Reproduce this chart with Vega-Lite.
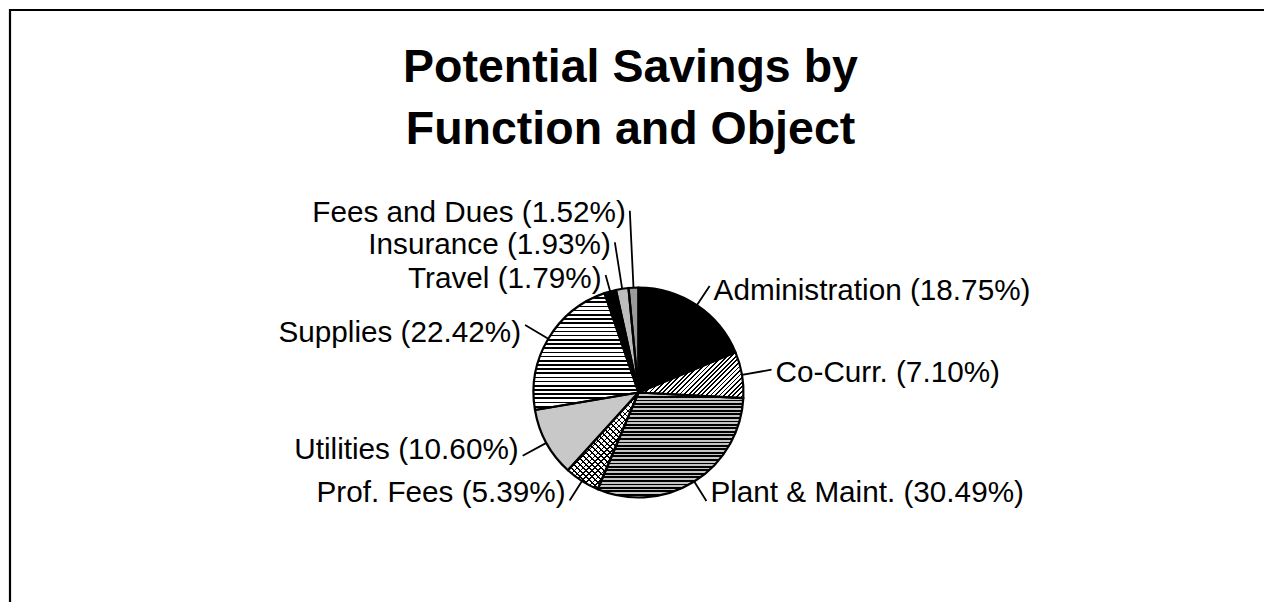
{
"$schema": "https://vega.github.io/schema/vega-lite/v6.json",
"width": 1257,
"height": 765,
"autosize": "none",
"padding": {"left": 10, "top": 10, "right": -3, "bottom": -173},
"background": "#ffffff",
"title": {"text": ["Potential Savings by", "Function and Object"], "font": "Liberation Sans", "fontSize": 46.5, "fontWeight": "bold", "lineHeight": 62, "offset": -145, "dx": -8, "color": "#000000", "anchor": "middle"},
"layer": [
{"data": {"values": [{"frame": "border"}]},
"mark": {"type": "rect", "filled": false, "stroke": "#000000", "strokeWidth": 2.2}},
{"data": {"values": [
{"rank": 1, "category": "Administration", "pct": 18.75, "label": "Administration (18.75%)"},
{"rank": 2, "category": "Co-Curr.", "pct": 7.10, "label": "Co-Curr. (7.10%)"},
{"rank": 3, "category": "Plant & Maint.", "pct": 30.49, "label": "Plant & Maint. (30.49%)"},
{"rank": 4, "category": "Prof. Fees", "pct": 5.39, "label": "Prof. Fees (5.39%)"},
{"rank": 5, "category": "Utilities", "pct": 10.60, "label": "Utilities (10.60%)"},
{"rank": 6, "category": "Supplies", "pct": 22.42, "label": "Supplies (22.42%)"},
{"rank": 7, "category": "Travel", "pct": 1.79, "label": "Travel (1.79%)"},
{"rank": 8, "category": "Insurance", "pct": 1.93, "label": "Insurance (1.93%)"},
{"rank": 9, "category": "Fees and Dues", "pct": 1.52, "label": "Fees and Dues (1.52%)"}
]},
"encoding": {
"theta": {"field": "pct", "type": "quantitative", "stack": true},
"order": {"field": "rank", "type": "quantitative"}
},
"layer": [
{"mark": {"type": "arc", "outerRadius": 105},
"encoding": {"fill": {"condition": [
{"test": "datum.category === 'Co-Curr.'", "value": {"gradient": "linear", "x1": 0, "y1": 0, "x2": 1.2066, "y2": 0.5263, "stops": [
{"offset":0,"color":"#000"},{"offset":0.012,"color":"#000"},{"offset":0.012,"color":"#fff"},{"offset":0.03,"color":"#fff"},
{"offset":0.03,"color":"#000"},{"offset":0.042,"color":"#000"},{"offset":0.042,"color":"#fff"},{"offset":0.061,"color":"#fff"},
{"offset":0.061,"color":"#000"},{"offset":0.073,"color":"#000"},{"offset":0.073,"color":"#fff"},{"offset":0.091,"color":"#fff"},
{"offset":0.091,"color":"#000"},{"offset":0.103,"color":"#000"},{"offset":0.103,"color":"#fff"},{"offset":0.121,"color":"#fff"},
{"offset":0.121,"color":"#000"},{"offset":0.133,"color":"#000"},{"offset":0.133,"color":"#fff"},{"offset":0.152,"color":"#fff"},
{"offset":0.152,"color":"#000"},{"offset":0.164,"color":"#000"},{"offset":0.164,"color":"#fff"},{"offset":0.182,"color":"#fff"},
{"offset":0.182,"color":"#000"},{"offset":0.194,"color":"#000"},{"offset":0.194,"color":"#fff"},{"offset":0.212,"color":"#fff"},
{"offset":0.212,"color":"#000"},{"offset":0.224,"color":"#000"},{"offset":0.224,"color":"#fff"},{"offset":0.242,"color":"#fff"},
{"offset":0.242,"color":"#000"},{"offset":0.255,"color":"#000"},{"offset":0.255,"color":"#fff"},{"offset":0.273,"color":"#fff"},
{"offset":0.273,"color":"#000"},{"offset":0.285,"color":"#000"},{"offset":0.285,"color":"#fff"},{"offset":0.303,"color":"#fff"},
{"offset":0.303,"color":"#000"},{"offset":0.315,"color":"#000"},{"offset":0.315,"color":"#fff"},{"offset":0.333,"color":"#fff"},
{"offset":0.333,"color":"#000"},{"offset":0.345,"color":"#000"},{"offset":0.345,"color":"#fff"},{"offset":0.364,"color":"#fff"},
{"offset":0.364,"color":"#000"},{"offset":0.376,"color":"#000"},{"offset":0.376,"color":"#fff"},{"offset":0.394,"color":"#fff"},
{"offset":0.394,"color":"#000"},{"offset":0.406,"color":"#000"},{"offset":0.406,"color":"#fff"},{"offset":0.424,"color":"#fff"},
{"offset":0.424,"color":"#000"},{"offset":0.436,"color":"#000"},{"offset":0.436,"color":"#fff"},{"offset":0.455,"color":"#fff"},
{"offset":0.455,"color":"#000"},{"offset":0.467,"color":"#000"},{"offset":0.467,"color":"#fff"},{"offset":0.485,"color":"#fff"},
{"offset":0.485,"color":"#000"},{"offset":0.497,"color":"#000"},{"offset":0.497,"color":"#fff"},{"offset":0.515,"color":"#fff"},
{"offset":0.515,"color":"#000"},{"offset":0.527,"color":"#000"},{"offset":0.527,"color":"#fff"},{"offset":0.545,"color":"#fff"},
{"offset":0.545,"color":"#000"},{"offset":0.558,"color":"#000"},{"offset":0.558,"color":"#fff"},{"offset":0.576,"color":"#fff"},
{"offset":0.576,"color":"#000"},{"offset":0.588,"color":"#000"},{"offset":0.588,"color":"#fff"},{"offset":0.606,"color":"#fff"},
{"offset":0.606,"color":"#000"},{"offset":0.618,"color":"#000"},{"offset":0.618,"color":"#fff"},{"offset":0.636,"color":"#fff"},
{"offset":0.636,"color":"#000"},{"offset":0.648,"color":"#000"},{"offset":0.648,"color":"#fff"},{"offset":0.667,"color":"#fff"},
{"offset":0.667,"color":"#000"},{"offset":0.679,"color":"#000"},{"offset":0.679,"color":"#fff"},{"offset":0.697,"color":"#fff"},
{"offset":0.697,"color":"#000"},{"offset":0.709,"color":"#000"},{"offset":0.709,"color":"#fff"},{"offset":0.727,"color":"#fff"},
{"offset":0.727,"color":"#000"},{"offset":0.739,"color":"#000"},{"offset":0.739,"color":"#fff"},{"offset":0.758,"color":"#fff"},
{"offset":0.758,"color":"#000"},{"offset":0.77,"color":"#000"},{"offset":0.77,"color":"#fff"},{"offset":0.788,"color":"#fff"},
{"offset":0.788,"color":"#000"},{"offset":0.8,"color":"#000"},{"offset":0.8,"color":"#fff"},{"offset":0.818,"color":"#fff"},
{"offset":0.818,"color":"#000"},{"offset":0.83,"color":"#000"},{"offset":0.83,"color":"#fff"},{"offset":0.848,"color":"#fff"},
{"offset":0.848,"color":"#000"},{"offset":0.861,"color":"#000"},{"offset":0.861,"color":"#fff"},{"offset":0.879,"color":"#fff"},
{"offset":0.879,"color":"#000"},{"offset":0.891,"color":"#000"},{"offset":0.891,"color":"#fff"},{"offset":0.909,"color":"#fff"},
{"offset":0.909,"color":"#000"},{"offset":0.921,"color":"#000"},{"offset":0.921,"color":"#fff"},{"offset":0.939,"color":"#fff"},
{"offset":0.939,"color":"#000"},{"offset":0.952,"color":"#000"},{"offset":0.952,"color":"#fff"},{"offset":0.97,"color":"#fff"},
{"offset":0.97,"color":"#000"},{"offset":0.982,"color":"#000"},{"offset":0.982,"color":"#fff"},{"offset":1,"color":"#fff"}
]}},
{"test": "datum.category === 'Plant & Maint.'", "value": {"gradient": "linear", "x1": 0, "y1": 0, "x2": 0, "y2": 1, "stops": [
{"offset":0,"color":"#000"},{"offset":0.017,"color":"#000"},{"offset":0.017,"color":"#c4c4c4"},{"offset":0.033,"color":"#c4c4c4"},
{"offset":0.033,"color":"#000"},{"offset":0.05,"color":"#000"},{"offset":0.05,"color":"#c4c4c4"},{"offset":0.067,"color":"#c4c4c4"},
{"offset":0.067,"color":"#000"},{"offset":0.083,"color":"#000"},{"offset":0.083,"color":"#c4c4c4"},{"offset":0.1,"color":"#c4c4c4"},
{"offset":0.1,"color":"#000"},{"offset":0.117,"color":"#000"},{"offset":0.117,"color":"#c4c4c4"},{"offset":0.133,"color":"#c4c4c4"},
{"offset":0.133,"color":"#000"},{"offset":0.15,"color":"#000"},{"offset":0.15,"color":"#c4c4c4"},{"offset":0.167,"color":"#c4c4c4"},
{"offset":0.167,"color":"#000"},{"offset":0.183,"color":"#000"},{"offset":0.183,"color":"#c4c4c4"},{"offset":0.2,"color":"#c4c4c4"},
{"offset":0.2,"color":"#000"},{"offset":0.217,"color":"#000"},{"offset":0.217,"color":"#c4c4c4"},{"offset":0.233,"color":"#c4c4c4"},
{"offset":0.233,"color":"#000"},{"offset":0.25,"color":"#000"},{"offset":0.25,"color":"#c4c4c4"},{"offset":0.267,"color":"#c4c4c4"},
{"offset":0.267,"color":"#000"},{"offset":0.283,"color":"#000"},{"offset":0.283,"color":"#c4c4c4"},{"offset":0.3,"color":"#c4c4c4"},
{"offset":0.3,"color":"#000"},{"offset":0.317,"color":"#000"},{"offset":0.317,"color":"#c4c4c4"},{"offset":0.333,"color":"#c4c4c4"},
{"offset":0.333,"color":"#000"},{"offset":0.35,"color":"#000"},{"offset":0.35,"color":"#c4c4c4"},{"offset":0.367,"color":"#c4c4c4"},
{"offset":0.367,"color":"#000"},{"offset":0.383,"color":"#000"},{"offset":0.383,"color":"#c4c4c4"},{"offset":0.4,"color":"#c4c4c4"},
{"offset":0.4,"color":"#000"},{"offset":0.417,"color":"#000"},{"offset":0.417,"color":"#c4c4c4"},{"offset":0.433,"color":"#c4c4c4"},
{"offset":0.433,"color":"#000"},{"offset":0.45,"color":"#000"},{"offset":0.45,"color":"#c4c4c4"},{"offset":0.467,"color":"#c4c4c4"},
{"offset":0.467,"color":"#000"},{"offset":0.483,"color":"#000"},{"offset":0.483,"color":"#c4c4c4"},{"offset":0.5,"color":"#c4c4c4"},
{"offset":0.5,"color":"#000"},{"offset":0.517,"color":"#000"},{"offset":0.517,"color":"#c4c4c4"},{"offset":0.533,"color":"#c4c4c4"},
{"offset":0.533,"color":"#000"},{"offset":0.55,"color":"#000"},{"offset":0.55,"color":"#c4c4c4"},{"offset":0.567,"color":"#c4c4c4"},
{"offset":0.567,"color":"#000"},{"offset":0.583,"color":"#000"},{"offset":0.583,"color":"#c4c4c4"},{"offset":0.6,"color":"#c4c4c4"},
{"offset":0.6,"color":"#000"},{"offset":0.617,"color":"#000"},{"offset":0.617,"color":"#c4c4c4"},{"offset":0.633,"color":"#c4c4c4"},
{"offset":0.633,"color":"#000"},{"offset":0.65,"color":"#000"},{"offset":0.65,"color":"#c4c4c4"},{"offset":0.667,"color":"#c4c4c4"},
{"offset":0.667,"color":"#000"},{"offset":0.683,"color":"#000"},{"offset":0.683,"color":"#c4c4c4"},{"offset":0.7,"color":"#c4c4c4"},
{"offset":0.7,"color":"#000"},{"offset":0.717,"color":"#000"},{"offset":0.717,"color":"#c4c4c4"},{"offset":0.733,"color":"#c4c4c4"},
{"offset":0.733,"color":"#000"},{"offset":0.75,"color":"#000"},{"offset":0.75,"color":"#c4c4c4"},{"offset":0.767,"color":"#c4c4c4"},
{"offset":0.767,"color":"#000"},{"offset":0.783,"color":"#000"},{"offset":0.783,"color":"#c4c4c4"},{"offset":0.8,"color":"#c4c4c4"},
{"offset":0.8,"color":"#000"},{"offset":0.817,"color":"#000"},{"offset":0.817,"color":"#c4c4c4"},{"offset":0.833,"color":"#c4c4c4"},
{"offset":0.833,"color":"#000"},{"offset":0.85,"color":"#000"},{"offset":0.85,"color":"#c4c4c4"},{"offset":0.867,"color":"#c4c4c4"},
{"offset":0.867,"color":"#000"},{"offset":0.883,"color":"#000"},{"offset":0.883,"color":"#c4c4c4"},{"offset":0.9,"color":"#c4c4c4"},
{"offset":0.9,"color":"#000"},{"offset":0.917,"color":"#000"},{"offset":0.917,"color":"#c4c4c4"},{"offset":0.933,"color":"#c4c4c4"},
{"offset":0.933,"color":"#000"},{"offset":0.95,"color":"#000"},{"offset":0.95,"color":"#c4c4c4"},{"offset":0.967,"color":"#c4c4c4"},
{"offset":0.967,"color":"#000"},{"offset":0.983,"color":"#000"},{"offset":0.983,"color":"#c4c4c4"},{"offset":1,"color":"#c4c4c4"}
]}},
{"test": "datum.category === 'Prof. Fees'", "value": {"gradient": "linear", "x1": 0, "y1": 0, "x2": 0.8225, "y2": 1.1294, "stops": [
{"offset":0,"color":"#000"},{"offset":0.011,"color":"#000"},{"offset":0.011,"color":"#fff"},{"offset":0.036,"color":"#fff"},
{"offset":0.036,"color":"#000"},{"offset":0.046,"color":"#000"},{"offset":0.046,"color":"#fff"},{"offset":0.071,"color":"#fff"},
{"offset":0.071,"color":"#000"},{"offset":0.082,"color":"#000"},{"offset":0.082,"color":"#fff"},{"offset":0.107,"color":"#fff"},
{"offset":0.107,"color":"#000"},{"offset":0.118,"color":"#000"},{"offset":0.118,"color":"#fff"},{"offset":0.143,"color":"#fff"},
{"offset":0.143,"color":"#000"},{"offset":0.154,"color":"#000"},{"offset":0.154,"color":"#fff"},{"offset":0.179,"color":"#fff"},
{"offset":0.179,"color":"#000"},{"offset":0.189,"color":"#000"},{"offset":0.189,"color":"#fff"},{"offset":0.214,"color":"#fff"},
{"offset":0.214,"color":"#000"},{"offset":0.225,"color":"#000"},{"offset":0.225,"color":"#fff"},{"offset":0.25,"color":"#fff"},
{"offset":0.25,"color":"#000"},{"offset":0.261,"color":"#000"},{"offset":0.261,"color":"#fff"},{"offset":0.286,"color":"#fff"},
{"offset":0.286,"color":"#000"},{"offset":0.296,"color":"#000"},{"offset":0.296,"color":"#fff"},{"offset":0.321,"color":"#fff"},
{"offset":0.321,"color":"#000"},{"offset":0.332,"color":"#000"},{"offset":0.332,"color":"#fff"},{"offset":0.357,"color":"#fff"},
{"offset":0.357,"color":"#000"},{"offset":0.368,"color":"#000"},{"offset":0.368,"color":"#fff"},{"offset":0.393,"color":"#fff"},
{"offset":0.393,"color":"#000"},{"offset":0.404,"color":"#000"},{"offset":0.404,"color":"#fff"},{"offset":0.429,"color":"#fff"},
{"offset":0.429,"color":"#000"},{"offset":0.439,"color":"#000"},{"offset":0.439,"color":"#fff"},{"offset":0.464,"color":"#fff"},
{"offset":0.464,"color":"#000"},{"offset":0.475,"color":"#000"},{"offset":0.475,"color":"#fff"},{"offset":0.5,"color":"#fff"},
{"offset":0.5,"color":"#000"},{"offset":0.511,"color":"#000"},{"offset":0.511,"color":"#fff"},{"offset":0.536,"color":"#fff"},
{"offset":0.536,"color":"#000"},{"offset":0.546,"color":"#000"},{"offset":0.546,"color":"#fff"},{"offset":0.571,"color":"#fff"},
{"offset":0.571,"color":"#000"},{"offset":0.582,"color":"#000"},{"offset":0.582,"color":"#fff"},{"offset":0.607,"color":"#fff"},
{"offset":0.607,"color":"#000"},{"offset":0.618,"color":"#000"},{"offset":0.618,"color":"#fff"},{"offset":0.643,"color":"#fff"},
{"offset":0.643,"color":"#000"},{"offset":0.654,"color":"#000"},{"offset":0.654,"color":"#fff"},{"offset":0.679,"color":"#fff"},
{"offset":0.679,"color":"#000"},{"offset":0.689,"color":"#000"},{"offset":0.689,"color":"#fff"},{"offset":0.714,"color":"#fff"},
{"offset":0.714,"color":"#000"},{"offset":0.725,"color":"#000"},{"offset":0.725,"color":"#fff"},{"offset":0.75,"color":"#fff"},
{"offset":0.75,"color":"#000"},{"offset":0.761,"color":"#000"},{"offset":0.761,"color":"#fff"},{"offset":0.786,"color":"#fff"},
{"offset":0.786,"color":"#000"},{"offset":0.796,"color":"#000"},{"offset":0.796,"color":"#fff"},{"offset":0.821,"color":"#fff"},
{"offset":0.821,"color":"#000"},{"offset":0.832,"color":"#000"},{"offset":0.832,"color":"#fff"},{"offset":0.857,"color":"#fff"},
{"offset":0.857,"color":"#000"},{"offset":0.868,"color":"#000"},{"offset":0.868,"color":"#fff"},{"offset":0.893,"color":"#fff"},
{"offset":0.893,"color":"#000"},{"offset":0.904,"color":"#000"},{"offset":0.904,"color":"#fff"},{"offset":0.929,"color":"#fff"},
{"offset":0.929,"color":"#000"},{"offset":0.939,"color":"#000"},{"offset":0.939,"color":"#fff"},{"offset":0.964,"color":"#fff"},
{"offset":0.964,"color":"#000"},{"offset":0.975,"color":"#000"},{"offset":0.975,"color":"#fff"},{"offset":1,"color":"#fff"}
]}},
{"test": "datum.category === 'Utilities'", "value": "#c8c8c8"},
{"test": "datum.category === 'Supplies'", "value": {"gradient": "linear", "x1": 0, "y1": 0, "x2": 0, "y2": 1, "stops": [
{"offset":0,"color":"#000"},{"offset":0.014,"color":"#000"},{"offset":0.014,"color":"#fff"},{"offset":0.036,"color":"#fff"},
{"offset":0.036,"color":"#000"},{"offset":0.05,"color":"#000"},{"offset":0.05,"color":"#fff"},{"offset":0.071,"color":"#fff"},
{"offset":0.071,"color":"#000"},{"offset":0.086,"color":"#000"},{"offset":0.086,"color":"#fff"},{"offset":0.107,"color":"#fff"},
{"offset":0.107,"color":"#000"},{"offset":0.121,"color":"#000"},{"offset":0.121,"color":"#fff"},{"offset":0.143,"color":"#fff"},
{"offset":0.143,"color":"#000"},{"offset":0.157,"color":"#000"},{"offset":0.157,"color":"#fff"},{"offset":0.179,"color":"#fff"},
{"offset":0.179,"color":"#000"},{"offset":0.193,"color":"#000"},{"offset":0.193,"color":"#fff"},{"offset":0.214,"color":"#fff"},
{"offset":0.214,"color":"#000"},{"offset":0.229,"color":"#000"},{"offset":0.229,"color":"#fff"},{"offset":0.25,"color":"#fff"},
{"offset":0.25,"color":"#000"},{"offset":0.264,"color":"#000"},{"offset":0.264,"color":"#fff"},{"offset":0.286,"color":"#fff"},
{"offset":0.286,"color":"#000"},{"offset":0.3,"color":"#000"},{"offset":0.3,"color":"#fff"},{"offset":0.321,"color":"#fff"},
{"offset":0.321,"color":"#000"},{"offset":0.336,"color":"#000"},{"offset":0.336,"color":"#fff"},{"offset":0.357,"color":"#fff"},
{"offset":0.357,"color":"#000"},{"offset":0.371,"color":"#000"},{"offset":0.371,"color":"#fff"},{"offset":0.393,"color":"#fff"},
{"offset":0.393,"color":"#000"},{"offset":0.407,"color":"#000"},{"offset":0.407,"color":"#fff"},{"offset":0.429,"color":"#fff"},
{"offset":0.429,"color":"#000"},{"offset":0.443,"color":"#000"},{"offset":0.443,"color":"#fff"},{"offset":0.464,"color":"#fff"},
{"offset":0.464,"color":"#000"},{"offset":0.479,"color":"#000"},{"offset":0.479,"color":"#fff"},{"offset":0.5,"color":"#fff"},
{"offset":0.5,"color":"#000"},{"offset":0.514,"color":"#000"},{"offset":0.514,"color":"#fff"},{"offset":0.536,"color":"#fff"},
{"offset":0.536,"color":"#000"},{"offset":0.55,"color":"#000"},{"offset":0.55,"color":"#fff"},{"offset":0.571,"color":"#fff"},
{"offset":0.571,"color":"#000"},{"offset":0.586,"color":"#000"},{"offset":0.586,"color":"#fff"},{"offset":0.607,"color":"#fff"},
{"offset":0.607,"color":"#000"},{"offset":0.621,"color":"#000"},{"offset":0.621,"color":"#fff"},{"offset":0.643,"color":"#fff"},
{"offset":0.643,"color":"#000"},{"offset":0.657,"color":"#000"},{"offset":0.657,"color":"#fff"},{"offset":0.679,"color":"#fff"},
{"offset":0.679,"color":"#000"},{"offset":0.693,"color":"#000"},{"offset":0.693,"color":"#fff"},{"offset":0.714,"color":"#fff"},
{"offset":0.714,"color":"#000"},{"offset":0.729,"color":"#000"},{"offset":0.729,"color":"#fff"},{"offset":0.75,"color":"#fff"},
{"offset":0.75,"color":"#000"},{"offset":0.764,"color":"#000"},{"offset":0.764,"color":"#fff"},{"offset":0.786,"color":"#fff"},
{"offset":0.786,"color":"#000"},{"offset":0.8,"color":"#000"},{"offset":0.8,"color":"#fff"},{"offset":0.821,"color":"#fff"},
{"offset":0.821,"color":"#000"},{"offset":0.836,"color":"#000"},{"offset":0.836,"color":"#fff"},{"offset":0.857,"color":"#fff"},
{"offset":0.857,"color":"#000"},{"offset":0.871,"color":"#000"},{"offset":0.871,"color":"#fff"},{"offset":0.893,"color":"#fff"},
{"offset":0.893,"color":"#000"},{"offset":0.907,"color":"#000"},{"offset":0.907,"color":"#fff"},{"offset":0.929,"color":"#fff"},
{"offset":0.929,"color":"#000"},{"offset":0.943,"color":"#000"},{"offset":0.943,"color":"#fff"},{"offset":0.964,"color":"#fff"},
{"offset":0.964,"color":"#000"},{"offset":0.979,"color":"#000"},{"offset":0.979,"color":"#fff"},{"offset":1,"color":"#fff"}
]}},
{"test": "datum.category === 'Insurance'", "value": "#bdbdbd"},
{"test": "datum.category === 'Fees and Dues'", "value": "#9a9a9a"}
], "value": "#000000"}}},
{"mark": {"type": "arc", "outerRadius": 105},
"encoding": {"fill": {"condition": {"test": "datum.category === 'Prof. Fees'", "value": {"gradient": "linear", "x1": 0, "y1": 1, "x2": 0.8225, "y2": -0.1294, "stops": [
{"offset":0,"color":"#000"},{"offset":0.011,"color":"#000"},{"offset":0.011,"color":"rgba(0,0,0,0)"},{"offset":0.036,"color":"rgba(0,0,0,0)"},
{"offset":0.036,"color":"#000"},{"offset":0.046,"color":"#000"},{"offset":0.046,"color":"rgba(0,0,0,0)"},{"offset":0.071,"color":"rgba(0,0,0,0)"},
{"offset":0.071,"color":"#000"},{"offset":0.082,"color":"#000"},{"offset":0.082,"color":"rgba(0,0,0,0)"},{"offset":0.107,"color":"rgba(0,0,0,0)"},
{"offset":0.107,"color":"#000"},{"offset":0.118,"color":"#000"},{"offset":0.118,"color":"rgba(0,0,0,0)"},{"offset":0.143,"color":"rgba(0,0,0,0)"},
{"offset":0.143,"color":"#000"},{"offset":0.154,"color":"#000"},{"offset":0.154,"color":"rgba(0,0,0,0)"},{"offset":0.179,"color":"rgba(0,0,0,0)"},
{"offset":0.179,"color":"#000"},{"offset":0.189,"color":"#000"},{"offset":0.189,"color":"rgba(0,0,0,0)"},{"offset":0.214,"color":"rgba(0,0,0,0)"},
{"offset":0.214,"color":"#000"},{"offset":0.225,"color":"#000"},{"offset":0.225,"color":"rgba(0,0,0,0)"},{"offset":0.25,"color":"rgba(0,0,0,0)"},
{"offset":0.25,"color":"#000"},{"offset":0.261,"color":"#000"},{"offset":0.261,"color":"rgba(0,0,0,0)"},{"offset":0.286,"color":"rgba(0,0,0,0)"},
{"offset":0.286,"color":"#000"},{"offset":0.296,"color":"#000"},{"offset":0.296,"color":"rgba(0,0,0,0)"},{"offset":0.321,"color":"rgba(0,0,0,0)"},
{"offset":0.321,"color":"#000"},{"offset":0.332,"color":"#000"},{"offset":0.332,"color":"rgba(0,0,0,0)"},{"offset":0.357,"color":"rgba(0,0,0,0)"},
{"offset":0.357,"color":"#000"},{"offset":0.368,"color":"#000"},{"offset":0.368,"color":"rgba(0,0,0,0)"},{"offset":0.393,"color":"rgba(0,0,0,0)"},
{"offset":0.393,"color":"#000"},{"offset":0.404,"color":"#000"},{"offset":0.404,"color":"rgba(0,0,0,0)"},{"offset":0.429,"color":"rgba(0,0,0,0)"},
{"offset":0.429,"color":"#000"},{"offset":0.439,"color":"#000"},{"offset":0.439,"color":"rgba(0,0,0,0)"},{"offset":0.464,"color":"rgba(0,0,0,0)"},
{"offset":0.464,"color":"#000"},{"offset":0.475,"color":"#000"},{"offset":0.475,"color":"rgba(0,0,0,0)"},{"offset":0.5,"color":"rgba(0,0,0,0)"},
{"offset":0.5,"color":"#000"},{"offset":0.511,"color":"#000"},{"offset":0.511,"color":"rgba(0,0,0,0)"},{"offset":0.536,"color":"rgba(0,0,0,0)"},
{"offset":0.536,"color":"#000"},{"offset":0.546,"color":"#000"},{"offset":0.546,"color":"rgba(0,0,0,0)"},{"offset":0.571,"color":"rgba(0,0,0,0)"},
{"offset":0.571,"color":"#000"},{"offset":0.582,"color":"#000"},{"offset":0.582,"color":"rgba(0,0,0,0)"},{"offset":0.607,"color":"rgba(0,0,0,0)"},
{"offset":0.607,"color":"#000"},{"offset":0.618,"color":"#000"},{"offset":0.618,"color":"rgba(0,0,0,0)"},{"offset":0.643,"color":"rgba(0,0,0,0)"},
{"offset":0.643,"color":"#000"},{"offset":0.654,"color":"#000"},{"offset":0.654,"color":"rgba(0,0,0,0)"},{"offset":0.679,"color":"rgba(0,0,0,0)"},
{"offset":0.679,"color":"#000"},{"offset":0.689,"color":"#000"},{"offset":0.689,"color":"rgba(0,0,0,0)"},{"offset":0.714,"color":"rgba(0,0,0,0)"},
{"offset":0.714,"color":"#000"},{"offset":0.725,"color":"#000"},{"offset":0.725,"color":"rgba(0,0,0,0)"},{"offset":0.75,"color":"rgba(0,0,0,0)"},
{"offset":0.75,"color":"#000"},{"offset":0.761,"color":"#000"},{"offset":0.761,"color":"rgba(0,0,0,0)"},{"offset":0.786,"color":"rgba(0,0,0,0)"},
{"offset":0.786,"color":"#000"},{"offset":0.796,"color":"#000"},{"offset":0.796,"color":"rgba(0,0,0,0)"},{"offset":0.821,"color":"rgba(0,0,0,0)"},
{"offset":0.821,"color":"#000"},{"offset":0.832,"color":"#000"},{"offset":0.832,"color":"rgba(0,0,0,0)"},{"offset":0.857,"color":"rgba(0,0,0,0)"},
{"offset":0.857,"color":"#000"},{"offset":0.868,"color":"#000"},{"offset":0.868,"color":"rgba(0,0,0,0)"},{"offset":0.893,"color":"rgba(0,0,0,0)"},
{"offset":0.893,"color":"#000"},{"offset":0.904,"color":"#000"},{"offset":0.904,"color":"rgba(0,0,0,0)"},{"offset":0.929,"color":"rgba(0,0,0,0)"},
{"offset":0.929,"color":"#000"},{"offset":0.939,"color":"#000"},{"offset":0.939,"color":"rgba(0,0,0,0)"},{"offset":0.964,"color":"rgba(0,0,0,0)"},
{"offset":0.964,"color":"#000"},{"offset":0.975,"color":"#000"},{"offset":0.975,"color":"rgba(0,0,0,0)"},{"offset":1,"color":"rgba(0,0,0,0)"}
]}}, "value": null}}},
{"mark": {"type": "arc", "outerRadius": 105, "filled": false, "stroke": "#000000", "strokeWidth": 2.2, "strokeJoin": "round"}},
{"mark": {"type": "arc", "innerRadius": 105, "outerRadius": 128, "padAngle": 3.1416, "filled": false, "strokeWidth": 1.8},
"encoding": {"stroke": {"condition": {"test": "indexof(['Administration','Plant & Maint.','Prof. Fees'], datum.category) >= 0", "value": "#000000"}, "value": null}}},
{"mark": {"type": "arc", "innerRadius": 105, "outerRadius": 135, "padAngle": 3.1416, "filled": false, "strokeWidth": 1.8},
"encoding": {"stroke": {"condition": {"test": "datum.category === 'Co-Curr.'", "value": "#000000"}, "value": null}}},
{"mark": {"type": "arc", "innerRadius": 105, "outerRadius": 132, "padAngle": 3.1416, "filled": false, "strokeWidth": 1.8},
"encoding": {"stroke": {"condition": {"test": "indexof(['Utilities','Supplies'], datum.category) >= 0", "value": "#000000"}, "value": null}}},
{"mark": {"type": "arc", "innerRadius": 105, "outerRadius": 122, "padAngle": 3.1416, "filled": false, "strokeWidth": 1.8},
"encoding": {"stroke": {"condition": {"test": "datum.category === 'Travel'", "value": "#000000"}, "value": null}}},
{"mark": {"type": "arc", "innerRadius": 105, "outerRadius": 152, "padAngle": 3.1416, "filled": false, "strokeWidth": 1.8},
"encoding": {"stroke": {"condition": {"test": "datum.category === 'Insurance'", "value": "#000000"}, "value": null}}},
{"mark": {"type": "arc", "innerRadius": 105, "outerRadius": 182, "padAngle": 3.1416, "filled": false, "strokeWidth": 1.8},
"encoding": {"stroke": {"condition": {"test": "datum.category === 'Fees and Dues'", "value": "#000000"}, "value": null}}},
{"mark": {"type": "text", "radius": 128, "align": "left", "baseline": "middle", "dx": 4, "dy": 5, "font": "Liberation Sans", "fontSize": 29.7, "fill": "#000000"},
"encoding": {"text": {"condition": {"test": "datum.category === 'Administration'", "field": "label", "type": "nominal"}, "value": ""}}},
{"mark": {"type": "text", "radius": 135, "align": "left", "baseline": "middle", "dx": 4, "dy": 3, "font": "Liberation Sans", "fontSize": 29.7, "fill": "#000000"},
"encoding": {"text": {"condition": {"test": "datum.category === 'Co-Curr.'", "field": "label", "type": "nominal"}, "value": ""}}},
{"mark": {"type": "text", "radius": 128, "align": "left", "baseline": "middle", "dx": 4, "dy": -8, "font": "Liberation Sans", "fontSize": 29.7, "fill": "#000000"},
"encoding": {"text": {"condition": {"test": "datum.category === 'Plant & Maint.'", "field": "label", "type": "nominal"}, "value": ""}}},
{"mark": {"type": "text", "radius": 128, "align": "right", "baseline": "middle", "dx": -4, "dy": -7, "font": "Liberation Sans", "fontSize": 29.7, "fill": "#000000"},
"encoding": {"text": {"condition": {"test": "datum.category === 'Prof. Fees'", "field": "label", "type": "nominal"}, "value": ""}}},
{"mark": {"type": "text", "radius": 132, "align": "right", "baseline": "middle", "dx": -4, "dy": -6, "font": "Liberation Sans", "fontSize": 29.7, "fill": "#000000"},
"encoding": {"text": {"condition": {"test": "datum.category === 'Utilities'", "field": "label", "type": "nominal"}, "value": ""}}},
{"mark": {"type": "text", "radius": 132, "align": "right", "baseline": "middle", "dx": -4, "dy": 8, "font": "Liberation Sans", "fontSize": 29.7, "fill": "#000000"},
"encoding": {"text": {"condition": {"test": "datum.category === 'Supplies'", "field": "label", "type": "nominal"}, "value": ""}}},
{"mark": {"type": "text", "radius": 122, "align": "right", "baseline": "middle", "dx": -4, "dy": 4, "font": "Liberation Sans", "fontSize": 29.7, "fill": "#000000"},
"encoding": {"text": {"condition": {"test": "datum.category === 'Travel'", "field": "label", "type": "nominal"}, "value": ""}}},
{"mark": {"type": "text", "radius": 152, "align": "right", "baseline": "middle", "dx": -4, "dy": 3, "font": "Liberation Sans", "fontSize": 29.7, "fill": "#000000"},
"encoding": {"text": {"condition": {"test": "datum.category === 'Insurance'", "field": "label", "type": "nominal"}, "value": ""}}},
{"mark": {"type": "text", "radius": 182, "align": "right", "baseline": "middle", "dx": -4, "dy": 2, "font": "Liberation Sans", "fontSize": 29.7, "fill": "#000000"},
"encoding": {"text": {"condition": {"test": "datum.category === 'Fees and Dues'", "field": "label", "type": "nominal"}, "value": ""}}}
]}
],
"config": {"view": {"stroke": null}, "font": "Liberation Sans"}
}
